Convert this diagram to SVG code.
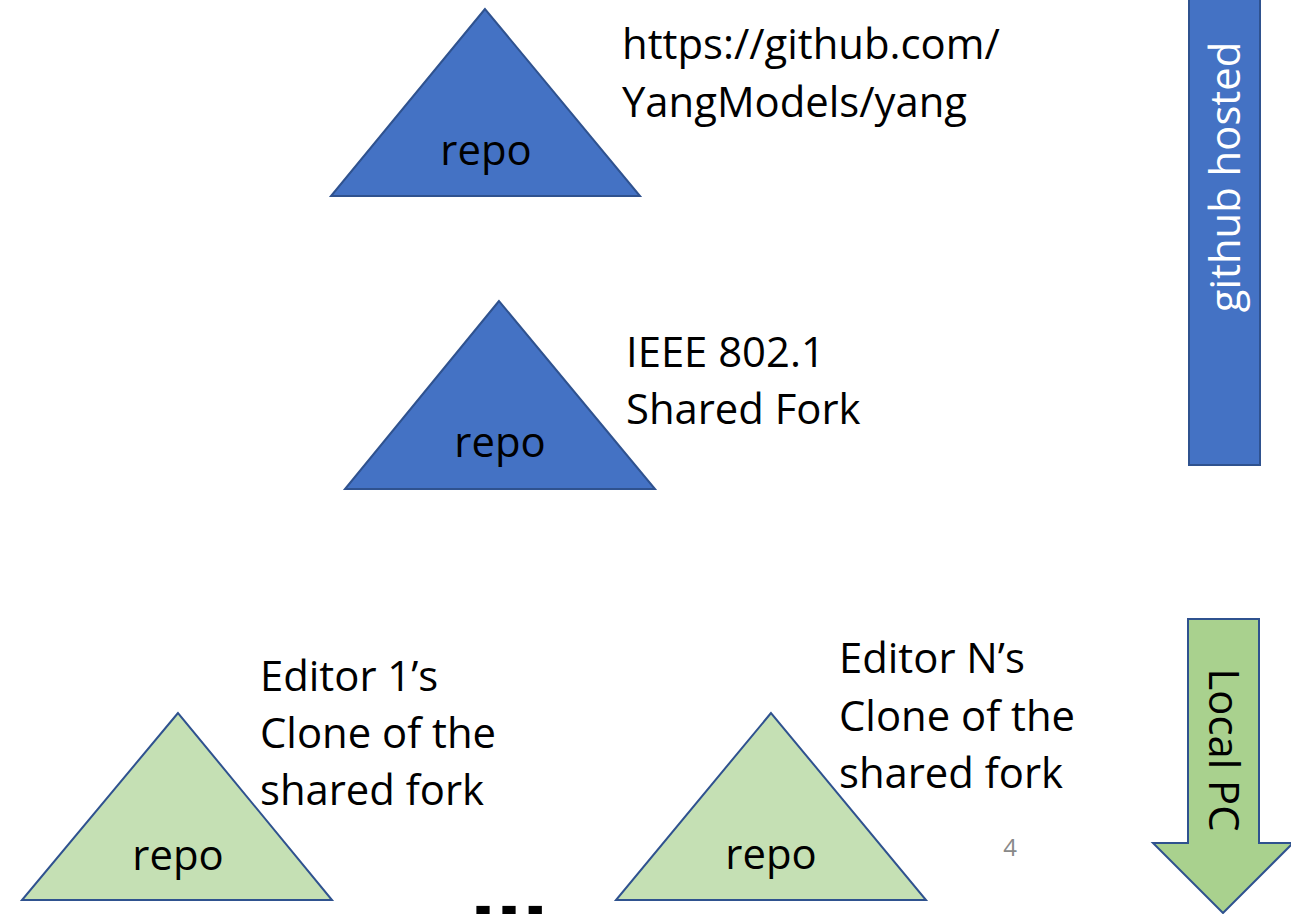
<svg xmlns="http://www.w3.org/2000/svg" width="1291" height="914" viewBox="0 0 1291 914">
<style>
.t{font-family:"Open Sans","Noto Sans",sans-serif;font-size:41.8px;fill:#000}
.blue{fill:#4472C4;stroke:#2F528F;stroke-width:2}
.green{fill:#C5E0B4;stroke:#2F528F;stroke-width:2}
.c{text-anchor:middle}
</style>
<rect width="1291" height="914" fill="#fff"/>
<g id="repo-upstream">
<polygon class="blue" points="485,9 331,196 640,196"/>
<text class="t c" x="486" y="165">repo</text>
<text class="t" x="622" y="59">https://github.com/</text>
<text class="t" x="622" y="117">YangModels/yang</text>
</g>
<g id="repo-shared-fork">
<polygon class="blue" points="499,301 345,489 655,489"/>
<text class="t c" x="500" y="457">repo</text>
<text class="t" x="626" y="367">IEEE 802.1</text>
<text class="t" x="626" y="424">Shared Fork</text>
</g>
<g id="repo-editor1">
<polygon class="green" points="178,713 22,900 332,900"/>
<text class="t c" x="178" y="870">repo</text>
<text class="t" x="260" y="691">Editor 1’s</text>
<text class="t" x="260" y="748">Clone of the</text>
<text class="t" x="260" y="805">shared fork</text>
</g>
<g id="repo-editorN">
<polygon class="green" points="771,713 616,900 926,900"/>
<text class="t c" x="771" y="869">repo</text>
<text class="t" x="839" y="673">Editor N’s</text>
<text class="t" x="839" y="731">Clone of the</text>
<text class="t" x="839" y="788">shared fork</text>
</g>
<g id="github-hosted">
<rect class="blue" x="1189" y="-5" width="71" height="470"/>
<text class="t c" transform="translate(1240,177) rotate(-90)" x="0" y="0" style="fill:#fff">github hosted</text>
</g>
<g id="local-pc">
<polygon points="1188,619 1259,619 1259,843 1293,843 1223,913 1153,843 1188,843" fill="#A9D18E" stroke="#2F528F" stroke-width="2"/>
<text class="t c" transform="translate(1209,750) rotate(90)" x="0" y="0">Local PC</text>
</g>
<g id="connectors"></g>
<text x="1010" y="856" font-family="'Open Sans','Noto Sans',sans-serif" font-size="24" fill="#898989" text-anchor="middle">4</text>
<text x="470" y="920" font-family="'Liberation Sans',Arial,sans-serif" font-size="94" font-weight="bold" fill="#000">...</text>
</svg>
